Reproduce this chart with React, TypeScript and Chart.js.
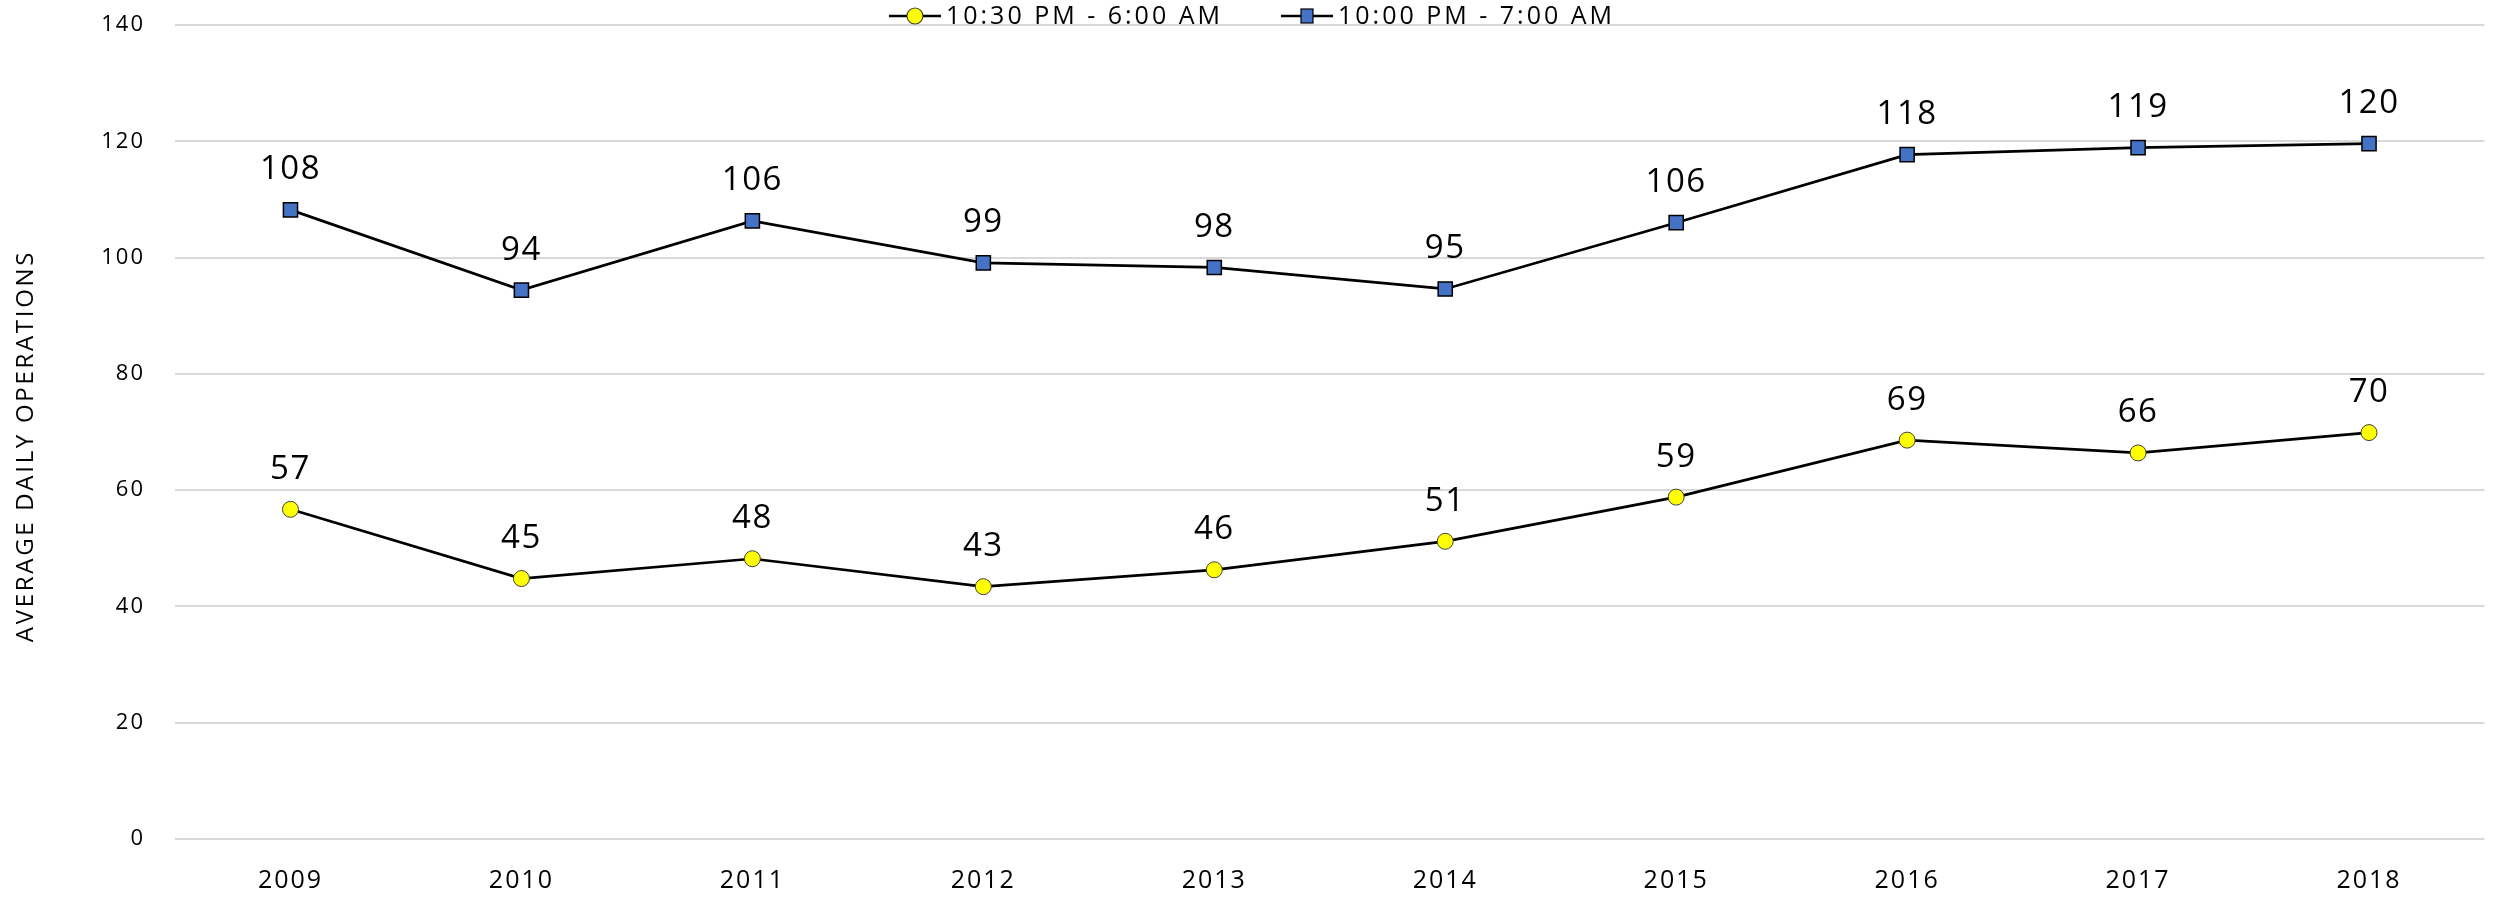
import React, { useEffect, useRef } from "react";
import { Chart, registerables } from "chart.js";
Chart.register(...registerables);

const years = ["2009", "2010", "2011", "2012", "2013", "2014", "2015", "2016", "2017", "2018"];
const lateNightValues = [56.7, 44.8, 48.2, 43.4, 46.3, 51.2, 58.8, 68.6, 66.4, 69.9];
const nightValues = [108.2, 94.4, 106.3, 99.1, 98.3, 94.6, 106.0, 117.7, 118.9, 119.6];
const lateNightLabel = "10:30 PM - 6:00 AM";
const nightLabel = "10:00 PM - 7:00 AM";
const yAxisTitle = "AVERAGE DAILY OPERATIONS";
const yMin = 0;
const yMax = 140;
const yStep = 20;

const FONT = "'Open Sans', 'Noto Sans', sans-serif";

const dataLabelPlugin = {
  id: "dataLabels",
  afterDatasetsDraw(chart: any) {
    const ctx = chart.ctx;
    ctx.save();
    ctx.font = `33px ${FONT}`;
    (ctx as any).letterSpacing = "1.5px";
    ctx.fillStyle = "#000";
    ctx.textAlign = "center";
    ctx.textBaseline = "middle";
    chart.data.datasets.forEach((ds: any, i: number) => {
      const meta = chart.getDatasetMeta(i);
      meta.data.forEach((pt: any, j: number) => {
        ctx.fillText(String(Math.round(ds.data[j])), pt.x, pt.y - 40);
      });
    });
    ctx.restore();
  },
};

const axisTitlePlugin = {
  id: "axisTitle",
  afterDraw(chart: any) {
    const ctx = chart.ctx;
    ctx.save();
    ctx.font = `24px ${FONT}`;
    (ctx as any).letterSpacing = "2.7px";
    ctx.fillStyle = "#000";
    ctx.textAlign = "center";
    ctx.textBaseline = "middle";
    ctx.translate(26, 446);
    ctx.rotate(-Math.PI / 2);
    ctx.fillText(yAxisTitle, 0, 0);
    ctx.restore();
  },
};

const legendPlugin = {
  id: "customLegend",
  afterDraw(chart: any) {
    const ctx = chart.ctx;
    ctx.save();
    ctx.font = `25px ${FONT}`;
    (ctx as any).letterSpacing = "3px";
    ctx.textBaseline = "middle";
    ctx.textAlign = "left";
    const y = 16;
    const lineW = 52;
    const gap = 5;
    const itemGap = 58;
    const items = chart.data.datasets.map((ds: any) => ({ ds, w: ctx.measureText(ds.label).width }));
    const total = items.reduce((s: number, it: any) => s + lineW + gap + it.w, 0) + itemGap * (items.length - 1);
    let x = 1252 - total / 2;
    items.forEach((it: any) => {
      const ds = it.ds;
      ctx.strokeStyle = "#000";
      ctx.lineWidth = 2.7;
      ctx.beginPath();
      ctx.moveTo(x, y);
      ctx.lineTo(x + lineW, y);
      ctx.stroke();
      const cx = x + lineW / 2;
      ctx.fillStyle = ds.pointBackgroundColor;
      ctx.strokeStyle = ds.pointBorderColor;
      ctx.lineWidth = 1.2;
      if (ds.pointStyle === "rect") {
        ctx.fillRect(cx - 6, y - 7, 12, 14);
        ctx.strokeRect(cx - 6, y - 7, 12, 14);
      } else {
        ctx.beginPath();
        ctx.ellipse(cx, y, 8, 8, 0, 0, Math.PI * 2);
        ctx.fill();
        ctx.stroke();
      }
      ctx.fillStyle = "#000";
      ctx.fillText(ds.label, x + lineW + gap, y + 1);
      x += lineW + gap + it.w + itemGap;
    });
    ctx.restore();
  },
};

// letter spacing for axis tick labels (x wider than y)
const spacingPlugin = {
  id: "spacing",
  beforeDraw(chart: any) {
    (chart.ctx as any).letterSpacing = "2px";
  },
  afterLayout(chart: any) {
    const xs = chart.scales.x;
    if (xs && !xs.__spaced) {
      const orig = xs.draw.bind(xs);
      xs.draw = (area: any) => {
        const c: any = chart.ctx;
        const prev = c.letterSpacing;
        c.letterSpacing = "3px";
        orig(area);
        c.letterSpacing = prev;
      };
      xs.__spaced = true;
    }
  },
};

export default function App() {
  const ref = useRef<HTMLCanvasElement | null>(null);
  useEffect(() => {
    document.body.style.margin = "0";
    if (!ref.current) return;
    const chart = new Chart(ref.current, {
      type: "line",
      data: {
        labels: years,
        datasets: [
          {
            label: lateNightLabel,
            data: lateNightValues,
            borderColor: "#000",
            borderWidth: 2.7,
            pointStyle: "circle",
            pointRadius: 8,
            pointBackgroundColor: "#ffff00",
            pointBorderColor: "#404040",
            pointBorderWidth: 1,
            tension: 0,
          },
          {
            label: nightLabel,
            data: nightValues,
            borderColor: "#000",
            borderWidth: 2.7,
            pointStyle: "rect",
            pointRadius: 10,
            pointBackgroundColor: "#4472c4",
            pointBorderColor: "#000",
            pointBorderWidth: 1.5,
            tension: 0,
          },
        ],
      },
      options: {
        responsive: false,
        animation: false,
        layout: { padding: { top: 25, right: 6, left: 0, bottom: 0 } },
        plugins: {
          legend: { display: false },
          tooltip: { enabled: false },
        },
        scales: {
          x: {
            offset: true,
            grid: { display: false, drawTicks: false },
            border: { display: false },
            ticks: { color: "#000", font: { family: FONT, size: 25 }, padding: 27, maxRotation: 0 },
            afterFit: (s: any) => {
              s.height = 59;
              s.paddingLeft = 0;
              s.paddingRight = 0;
            },
          },
          y: {
            min: yMin,
            max: yMax,
            grid: { color: "#d9d9d9", lineWidth: 2, drawTicks: false },
            border: { display: false },
            ticks: { stepSize: yStep, color: "#000", font: { family: FONT, size: 22 }, padding: 30 },
            title: { display: false },
            afterFit: (s: any) => {
              s.width = 175;
              s.paddingTop = 0;
              s.paddingBottom = 0;
            },
          },
        },
      },
      plugins: [spacingPlugin, dataLabelPlugin, axisTitlePlugin, legendPlugin],
    });
    return () => chart.destroy();
  }, []);
  return <canvas ref={ref} width={2496} height={898} style={{ display: "block" }} />;
}
